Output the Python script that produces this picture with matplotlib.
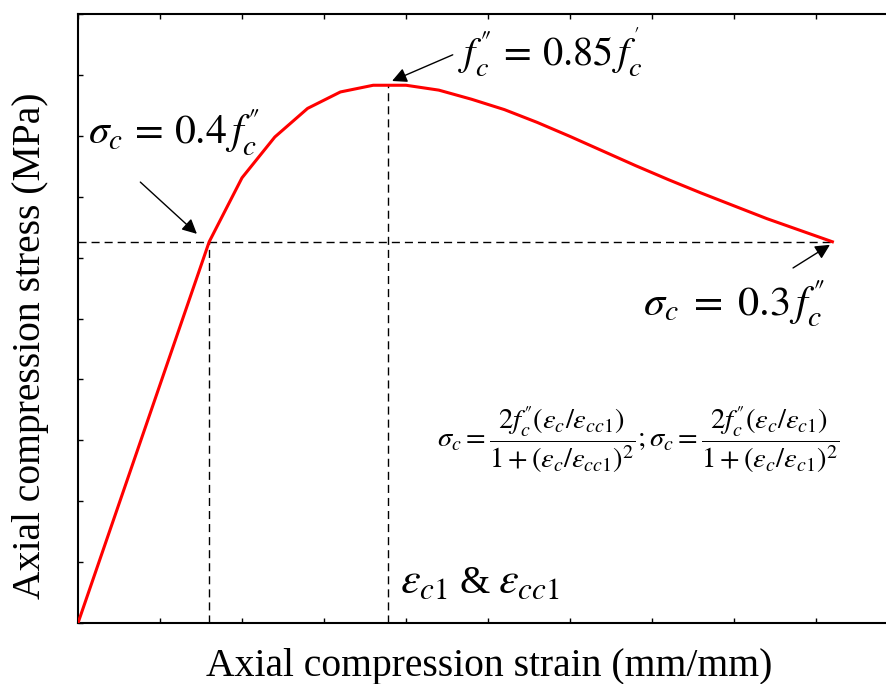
import matplotlib.pyplot as plt

plt.rcParams["font.family"] = ["Liberation Serif", "DejaVu Serif"]
plt.rcParams["mathtext.fontset"] = "stix"

# Stress-strain curve (arbitrary units)
strain = [0.0, 1.6, 2.0, 2.4, 2.8, 3.2, 3.6, 4.0, 4.4, 4.8, 5.2, 5.6,
          6.0, 6.4, 6.8, 7.2, 7.6, 8.0, 8.4, 8.8, 9.2]
stress = [0.0, 6.26, 7.31, 7.98, 8.45, 8.72, 8.83, 8.83, 8.75, 8.60, 8.43, 8.22,
          7.99, 7.75, 7.51, 7.28, 7.06, 6.85, 6.64, 6.45, 6.26]

# Key points
strain_04 = 1.6      # sigma_c = 0.4 f_c''
stress_04 = 6.26
strain_peak = 3.78   # eps_c1 & eps_cc1
stress_peak = 8.83
strain_end = 9.2     # sigma_c = 0.3 f_c''

DQ = "\u2033"  # double prime

fig = plt.figure(figsize=(8.86, 6.84), dpi=100)
ax = fig.add_axes([78 / 886, 61 / 684, 820 / 886, 609 / 684])

dash = dict(color="black", lw=1.0, dashes=(5.8, 3.6))
ax.plot([0, strain_end], [stress_04, stress_04], **dash)
ax.plot([strain_04, strain_04], [0, stress_04], **dash)
ax.plot([strain_peak, strain_peak], [0, stress_peak], **dash)

ax.plot(strain, stress, color="#ff0000", lw=2.2, zorder=3)

ax.set_xlim(0, 10)
ax.set_ylim(0, 10)
ax.set_xticks(range(0, 11))
ax.set_yticks(range(0, 11))
ax.tick_params(direction="in", length=3.5, width=1.0, top=True, right=True,
               labelbottom=False, labelleft=False)
for sp in ax.spines.values():
    sp.set_linewidth(1.5)

ax.set_xlabel("Axial compression strain (mm/mm)", fontsize=28.5)
ax.set_ylabel("Axial compression stress (MPa)", fontsize=28.5)
ax.xaxis.set_label_coords(0.501, -0.041)
ax.yaxis.set_label_coords(-0.035, 0.456)

arrow = dict(arrowstyle="-|>", color="black", lw=1.0, mutation_scale=22,
             shrinkA=0, shrinkB=0)

ax.annotate("", xy=(1.45, 6.39), xytext=(0.76, 7.24), arrowprops=arrow)
ax.annotate("", xy=(3.83, 8.90), xytext=(4.57, 9.33), arrowprops=arrow)
ax.annotate("", xy=(9.17, 6.21), xytext=(8.72, 5.83), arrowprops=arrow)

ax.text(0.12, 7.85, r"$\sigma_c\,=\,0.4\,f_c^{%s}$" % DQ, fontsize=30, va="baseline")
ax.text(4.63, 9.16, r"$f_c^{%s}\,=\,0.85\,f_c^{'}$" % DQ, fontsize=29, va="baseline")
ax.text(6.89, 5.03, r"$\sigma_c\;=\;0.3\,f_c^{%s}$" % DQ, fontsize=30.5, va="baseline")

ax.text(6.83, 3.01,
        r"$\sigma_c = \dfrac{2f_c^{%s}(\varepsilon_c/\varepsilon_{cc1})}"
        r"{1+(\varepsilon_c/\varepsilon_{cc1})^2};"
        r"\sigma_c = \dfrac{2f_c^{%s}(\varepsilon_c/\varepsilon_{c1})}"
        r"{1+(\varepsilon_c/\varepsilon_{c1})^2}$" % (DQ, DQ),
        fontsize=20.5, ha="center", va="center")

# peak strain labels
ax.text(3.93, 0.49, r"$\varepsilon_{c1}$", fontsize=32, va="baseline")
ax.text(4.65, 0.49, "&", fontsize=28, va="baseline")
ax.text(5.12, 0.49, r"$\varepsilon_{cc1}$", fontsize=32, va="baseline")

fig.savefig("out.png", dpi=100)
